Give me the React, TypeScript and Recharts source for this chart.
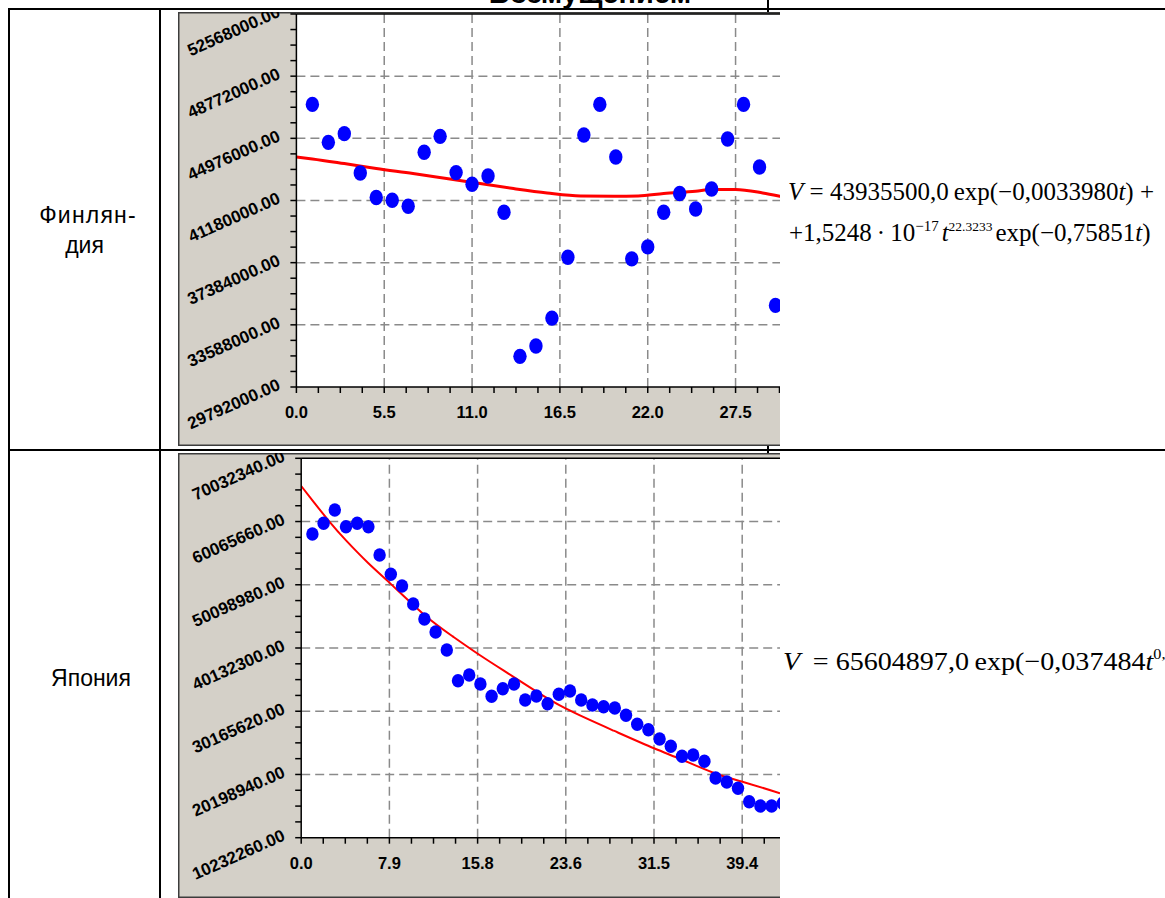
import React from "react";
import {
  ComposedChart,
  Line,
  Scatter,
  XAxis,
  YAxis,
  ReferenceLine,
  ReferenceArea,
} from "recharts";

// Финляндия: наблюдения
const finT = [
  1, 2, 3, 4, 5, 6, 7, 8, 9, 10, 11, 12, 13, 14, 15, 16, 17, 18, 19, 20, 21,
  22, 23, 24, 25, 26, 27, 28, 29, 30,
];
const finV = [
  47049000, 44732000, 45263000, 42860000, 41360000, 41195000, 40829000,
  44122000, 45098000, 42884000, 42171000, 42677000, 40464000, 31664000,
  32292000, 34000000, 37719000, 45177000, 47049000, 43836000, 37616000,
  38347000, 40464000, 41604000, 40665000, 41884000, 44933000, 47049000,
  43226000, 34774000,
];
// Финляндия: модель (red curve)
const finFitT = [
  0, 1, 3, 5, 7.3, 9.4, 11.5, 13.6, 15.7, 17.8, 19.9, 21.4, 23, 25, 26, 27.5,
  29.2, 30.3, 30.6,
];
const finFitV = [
  43836000, 43720000, 43433000, 43128000, 42823000, 42519000, 42214000,
  41909000, 41641000, 41457000, 41439000, 41457000, 41604000, 41744000,
  41848000, 41848000, 41641000, 41439000, 41380000,
];
const finXTicks = [0, 5.5, 11, 16.5, 22, 27.5, 33];
const finXLabels = ["0.0", "5.5", "11.0", "16.5", "22.0", "27.5", "33.0"];
const finYTicks = [
  29792000, 33588000, 37384000, 41180000, 44976000, 48772000, 52568000,
];
const finYLabels = [
  "29792000.00", "33588000.00", "37384000.00", "41180000.00", "44976000.00",
  "48772000.00", "52568000.00",
];

// Япония: наблюдения
const jpT = [
  1, 2, 3, 4, 5, 6, 7, 8, 9, 10, 11, 12, 13, 14, 15, 16, 17, 18, 19, 20, 21,
  22, 23, 24, 25, 26, 27, 28, 29, 30, 31, 32, 33, 34, 35, 36, 37, 38, 39, 40,
  41, 42, 43,
];
const jpV = [
  58103000, 59789000, 61886000, 59253000, 59789000, 59253000, 54793000,
  51750000, 49906000, 47069000, 44705000, 42656000, 39818000, 34979000,
  35878000, 34459000, 32520000, 33718000, 34459000, 31937000, 32567000,
  31354000, 32835000, 33356000, 31937000, 31149000, 30881000, 30676000,
  29525000, 28107000, 27256000, 25790000, 24639000, 23063000, 23268000,
  22275000, 19642000, 19012000, 18019000, 15907000, 15229000, 15229000,
  15654000,
];
const jpFitT = [
  0, 1, 2.5, 4, 6, 7.9, 10.9, 13.5, 16, 18.5, 20.7, 23.6, 27.9, 31.5, 34,
  36.8, 39.4, 42.75,
];
const jpFitV = [
  65669000, 63400000, 60100000, 57100000, 53500000, 50400000, 45500000,
  42000000, 38950000, 36100000, 33600000, 30600000, 27098000, 24324000,
  22530000, 20478000, 19059000, 17231000,
];
const jpXTicks = [0, 7.875, 15.75, 23.625, 31.5, 39.375, 47.25];
const jpXLabels = ["0.0", "7.9", "15.8", "23.6", "31.5", "39.4", "47.3"];
const jpYTicks = [
  10232260, 20198940, 30165620, 40132300, 50098980, 60065660, 70032340,
];
const jpYLabels = [
  "10232260.00", "20198940.00", "30165620.00", "40132300.00", "50098980.00",
  "60065660.00", "70032340.00",
];

const zip = (ts: number[], vs: number[]) => ts.map((t, i) => ({ t, v: vs[i] }));

// major ticks + 3 minor ticks between them
const withMinor = (majors: number[]) =>
  majors.flatMap((m, i) =>
    i === majors.length - 1
      ? [m]
      : [0, 1, 2, 3].map((k) => m + ((majors[i + 1] - m) * k) / 4)
  );

const majorIndex = (majors: number[], v: number) =>
  majors.findIndex((m) => Math.abs(m - v) < 1e-6 * Math.max(1, Math.abs(m)));

const AXIS_FONT = "'Liberation Sans', Arial, sans-serif";

function XTick(props: any) {
  const { x, y, payload, majors, labels } = props;
  const idx = majorIndex(majors, payload.value);
  return (
    <g>
      <line x1={x} y1={y} x2={x} y2={y + 6} stroke="#000" strokeWidth={1.5} />
      {idx >= 0 && (
        <text
          x={x}
          y={y + 31}
          textAnchor="middle"
          fontSize={16.5}
          fontWeight="bold"
          fontFamily={AXIS_FONT}
          fill="#000"
        >
          {labels[idx]}
        </text>
      )}
    </g>
  );
}

function YTick(props: any) {
  const { x, y, payload, majors, labels } = props;
  const idx = majorIndex(majors, payload.value);
  const tx = x - 15;
  const ty = y + 2;
  return (
    <g>
      <line x1={x - 6} y1={y} x2={x} y2={y} stroke="#000" strokeWidth={1.5} />
      {idx >= 0 && (
        <text
          x={tx}
          y={ty}
          textAnchor="end"
          fontSize={17}
          fontWeight="bold"
          fontFamily={AXIS_FONT}
          fill="#000"
          transform={`rotate(-24, ${tx}, ${ty})`}
        >
          {labels[idx]}
        </text>
      )}
    </g>
  );
}

type PanelProps = {
  top: number;
  height: number;
  chartWidth: number;
  margin: { top: number; right: number; bottom: number; left: number };
  yAxisWidth: number;
  xAxisHeight: number;
  points: { t: number; v: number }[];
  fit: { t: number; v: number }[];
  fitType: "monotone" | "natural";
  xTicks: number[];
  xLabels: string[];
  yTicks: number[];
  yLabels: string[];
  rx: number;
  ry: number;
  lineWidth: number;
};

function FitPanel(p: PanelProps) {
  const xMax = p.xTicks[p.xTicks.length - 1];
  const yMin = p.yTicks[0];
  const yMax = p.yTicks[p.yTicks.length - 1];
  return (
    <div
      style={{
        position: "absolute",
        left: 178,
        top: p.top,
        width: 602,
        height: p.height,
        overflow: "hidden",
        background: "#D4D0C8",
        boxShadow: "inset 1.5px 1.5px 0 #3c3c3c, inset 0 -1.5px 0 #3c3c3c",
      }}
    >
      <ComposedChart width={p.chartWidth} height={p.height} margin={p.margin}>
        <XAxis
          type="number"
          dataKey="t"
          domain={[0, xMax]}
          ticks={withMinor(p.xTicks)}
          interval={0}
          allowDataOverflow
          height={p.xAxisHeight}
          tickLine={false}
          tickSize={0}
          tickMargin={0}
          axisLine={{ stroke: "#000", strokeWidth: 1.5 }}
          tick={(tp: any) => (
            <XTick {...tp} majors={p.xTicks} labels={p.xLabels} />
          )}
        />
        <YAxis
          type="number"
          dataKey="v"
          domain={[yMin, yMax]}
          ticks={withMinor(p.yTicks)}
          interval={0}
          allowDataOverflow
          width={p.yAxisWidth}
          tickLine={false}
          tickSize={0}
          tickMargin={0}
          axisLine={{ stroke: "#000", strokeWidth: 1.5 }}
          tick={(tp: any) => (
            <YTick {...tp} majors={p.yTicks} labels={p.yLabels} />
          )}
        />
        <ReferenceArea
          x1={0}
          x2={xMax}
          y1={yMin}
          y2={yMax}
          fill="#fff"
          fillOpacity={1}
          stroke="none"
          ifOverflow="visible"
        />
        {p.xTicks.slice(1).map((v) => (
          <ReferenceLine
            key={"gx" + v}
            x={v}
            stroke="#8a8a8a"
            strokeWidth={1.5}
            strokeDasharray="9 5"
          />
        ))}
        {p.yTicks.slice(1, -1).map((v) => (
          <ReferenceLine
            key={"gy" + v}
            y={v}
            stroke="#8a8a8a"
            strokeWidth={1.5}
            strokeDasharray="9 5"
          />
        ))}
        <ReferenceLine y={yMax} stroke="#000" strokeWidth={1.5} />
        <Line
          data={p.fit}
          dataKey="v"
          type={p.fitType}
          stroke="#FF0000"
          strokeWidth={p.lineWidth}
          dot={false}
          isAnimationActive={false}
        />
        <Scatter
          data={p.points}
          dataKey="v"
          fill="#0000FF"
          isAnimationActive={false}
          shape={(sp: any) => (
            <ellipse cx={sp.cx} cy={sp.cy} rx={p.rx} ry={p.ry} fill="#0000FF" />
          )}
        />
      </ComposedChart>
    </div>
  );
}

const serif = "'Liberation Serif', 'Times New Roman', serif";
const sans = "'Liberation Sans', Arial, sans-serif";

export default function App() {
  const line = (l: number, t: number, w: number, h: number) => (
    <div
      style={{ position: "absolute", left: l, top: t, width: w, height: h, background: "#000" }}
    />
  );
  return (
    <div
      style={{
        position: "absolute",
        left: 0,
        top: 0,
        width: 1165,
        height: 898,
        overflow: "hidden",
        background: "#fff",
      }}
    >
      {line(8, 8, 1157, 2)}
      {line(8, 8, 2, 890)}
      {line(159, 8, 2, 890)}
      {line(8, 448.5, 1157, 2)}
      {line(767, 0, 1.5, 898)}

      <svg
        width={1165}
        height={898}
        style={{ position: "absolute", left: 0, top: 0 }}
      >
        <text
          x={590}
          y={3}
          textAnchor="middle"
          fontFamily={sans}
          fontSize={29}
          fontWeight="bold"
          fill="#000"
        >
          Возмущением
        </text>
        <g fontFamily={sans} fontSize={23} fill="#000" textAnchor="middle">
          <text x={88} y={223} letterSpacing={1.2}>Финлян-</text>
          <text x={84.5} y={253}>дия</text>
          <text x={91} y={686}>Япония</text>
        </g>
        <g fontFamily={serif} fontSize={25} fill="#000">
          <text x={788} y={200}>
            <tspan fontStyle="italic">V</tspan>
            {" = 43935500,0\u2009exp(\u22120,0033980"}
            <tspan fontStyle="italic">t</tspan>
            {") +"}
          </text>
          <text x={789} y={240.5}>
            {"+1,5248\u2009\u00b7\u200910"}
            <tspan fontSize={15} dy={-10}>{"\u221217"}</tspan>
            <tspan fontStyle="italic" dy={10} dx={3}>t</tspan>
            <tspan fontSize={13.5} dy={-10}>22.3233</tspan>
            <tspan dy={10} dx={3}>{"exp(\u22120,75851"}</tspan>
            <tspan fontStyle="italic">t</tspan>
            {")"}
          </text>
        </g>
        <g transform="translate(783,670) scale(1.08,1)">
          <text x={0} y={0} fontFamily={serif} fontSize={26} fill="#000">
            <tspan fontStyle="italic">V</tspan>
            {" \u2009= 65604897,0\u2009exp(\u22120,037484"}
            <tspan fontStyle="italic">t</tspan>
            <tspan fontSize={15} dy={-11}>0,95</tspan>
            <tspan dy={11}>)</tspan>
          </text>
        </g>
      </svg>

      <FitPanel
        top={12}
        height={434}
        chartWidth={660}
        margin={{ top: 2, right: 14.6, bottom: 0, left: 0 }}
        yAxisWidth={118.4}
        xAxisHeight={59}
        points={zip(finT, finV)}
        fit={zip(finFitT, finFitV)}
        fitType="monotone"
        xTicks={finXTicks}
        xLabels={finXLabels}
        yTicks={finYTicks}
        yLabels={finYLabels}
        rx={6.7}
        ry={7.7}
        lineWidth={3}
      />
      <FitPanel
        top={453}
        height={445}
        chartWidth={670}
        margin={{ top: 5.3, right: 17.6, bottom: 0, left: 0 }}
        yAxisWidth={123.2}
        xAxisHeight={60.3}
        points={zip(jpT, jpV)}
        fit={zip(jpFitT, jpFitV)}
        fitType="natural"
        xTicks={jpXTicks}
        xLabels={jpXLabels}
        yTicks={jpYTicks}
        yLabels={jpYLabels}
        rx={6.2}
        ry={6.8}
        lineWidth={2}
      />
    </div>
  );
}
